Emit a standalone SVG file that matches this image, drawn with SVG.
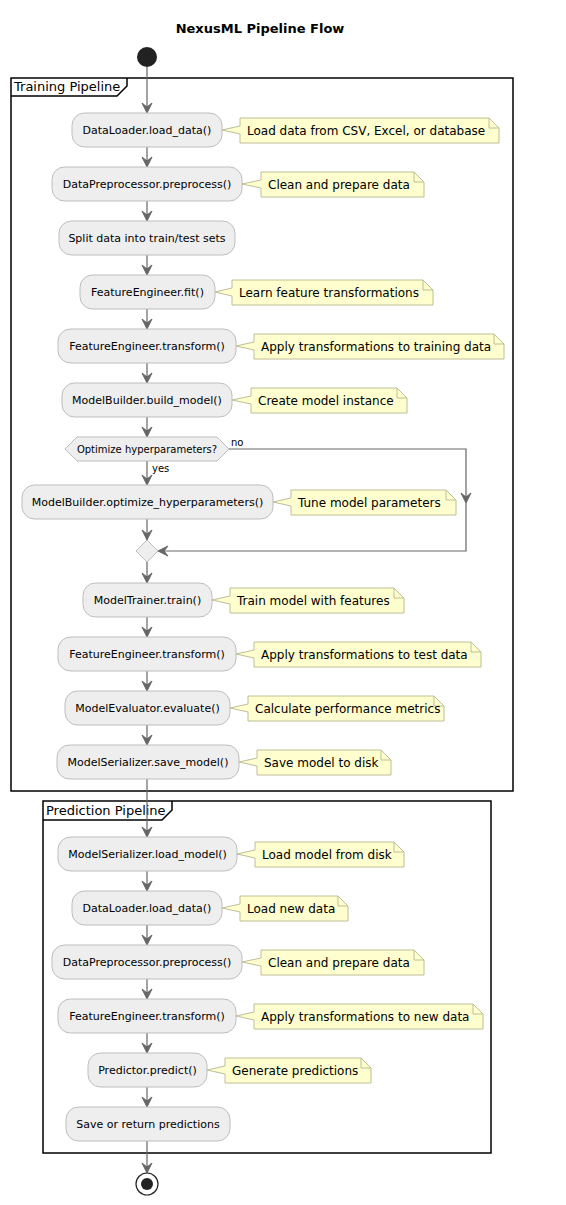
<svg xmlns="http://www.w3.org/2000/svg" width="566" height="1205" viewBox="0 0 566 1205">
<style>
.title{font-family:"DejaVu Sans",sans-serif;font-size:13px;font-weight:bold;fill:#000}
.frame{fill:none;stroke:#000;stroke-width:1.5}
.flabel{font-family:"DejaVu Sans",sans-serif;font-size:13px;fill:#000}
.act rect{fill:#EEEEEE;stroke:#BDBDBD;stroke-width:1}
.act text{font-family:"DejaVu Sans",sans-serif;font-size:11px;fill:#000;text-anchor:middle}
.note path{fill:#FEFECE;stroke:#BEBE98;stroke-width:1}
.note text{font-family:"DejaVu Sans",sans-serif;font-size:12px;fill:#000}
.edge{fill:none;stroke:#666;stroke-width:1.2}
.ah{fill:#666;stroke:#666;stroke-width:1}
.lbl{font-family:"DejaVu Sans",sans-serif;font-size:10px;fill:#000}
.dec{fill:#EEEEEE;stroke:#BDBDBD;stroke-width:1}
.dec-t{font-family:"DejaVu Sans",sans-serif;font-size:10px;fill:#000;text-anchor:middle}
</style>
<defs>
<polygon id="ad" points="-5,-10 0,0 5,-10 0,-6"/>
<polygon id="al" points="10,-5 0,0 10,5 6,0"/>
</defs>

<text class="title" x="260" y="33" text-anchor="middle">NexusML Pipeline Flow</text>

<g id="frame-training">
<rect class="frame" x="11" y="78" width="502" height="713"/>
<path class="frame" d="M11,96 L117,96 L127,86 L127,78"/>
<text class="flabel" x="14" y="91">Training Pipeline</text>
</g>
<g id="frame-prediction">
<rect class="frame" x="43" y="801" width="448" height="352"/>
<path class="frame" d="M43,820 L162,820 L172,810 L172,801"/>
<text class="flabel" x="46" y="815">Prediction Pipeline</text>
</g>

<g id="connectors">
<line class="edge" x1="147" y1="67" x2="147" y2="112"/>
<use href="#ad" class="ah" x="147" y="113"/>
<line class="edge" x1="147" y1="147" x2="147" y2="166"/>
<use href="#ad" class="ah" x="147" y="167"/>
<line class="edge" x1="147" y1="201" x2="147" y2="220"/>
<use href="#ad" class="ah" x="147" y="221"/>
<line class="edge" x1="147" y1="255" x2="147" y2="274"/>
<use href="#ad" class="ah" x="147" y="275"/>
<line class="edge" x1="147" y1="309" x2="147" y2="328"/>
<use href="#ad" class="ah" x="147" y="329"/>
<line class="edge" x1="147" y1="363" x2="147" y2="382"/>
<use href="#ad" class="ah" x="147" y="383"/>
<line class="edge" x1="147" y1="417" x2="147" y2="436"/>
<use href="#ad" class="ah" x="147" y="437"/>
<line class="edge" x1="147" y1="461" x2="147" y2="484"/>
<use href="#ad" class="ah" x="147" y="485"/>
<text class="lbl" x="152" y="472">yes</text>
<polyline class="edge" points="229,449 466,449 466,551 159,551"/>
<use href="#ad" class="ah" x="466" y="503"/>
<use href="#al" class="ah" x="158" y="551"/>
<text class="lbl" x="231" y="446">no</text>
<line class="edge" x1="147" y1="519" x2="147" y2="539"/>
<use href="#ad" class="ah" x="147" y="540"/>
<line class="edge" x1="147" y1="562" x2="147" y2="582"/>
<use href="#ad" class="ah" x="147" y="583"/>
<line class="edge" x1="147" y1="617" x2="147" y2="636"/>
<use href="#ad" class="ah" x="147" y="637"/>
<line class="edge" x1="147" y1="671" x2="147" y2="690"/>
<use href="#ad" class="ah" x="147" y="691"/>
<line class="edge" x1="147" y1="725" x2="147" y2="744"/>
<use href="#ad" class="ah" x="147" y="745"/>
<line class="edge" x1="147" y1="779" x2="147" y2="836"/>
<use href="#ad" class="ah" x="147" y="837"/>
<line class="edge" x1="147" y1="871" x2="147" y2="890"/>
<use href="#ad" class="ah" x="147" y="891"/>
<line class="edge" x1="147" y1="925" x2="147" y2="944"/>
<use href="#ad" class="ah" x="147" y="945"/>
<line class="edge" x1="147" y1="979" x2="147" y2="998"/>
<use href="#ad" class="ah" x="147" y="999"/>
<line class="edge" x1="147" y1="1033" x2="147" y2="1052"/>
<use href="#ad" class="ah" x="147" y="1053"/>
<line class="edge" x1="147" y1="1087" x2="147" y2="1106"/>
<use href="#ad" class="ah" x="147" y="1107"/>
<line class="edge" x1="147" y1="1141" x2="147" y2="1172"/>
<use href="#ad" class="ah" x="147" y="1173"/>
</g>

<g id="start"><circle cx="147" cy="57" r="10" fill="#222"/></g>

<g id="n1" class="act"><rect x="72" y="113" width="150" height="34" rx="12.5"/><text x="147" y="134">DataLoader.load_data()</text></g>
<g id="note1" class="note"><path d="M240,118 L240,126 L222,130 L240,134 L240,143 L499,143 L499,128 L489,118 Z M489,118 L489,128 L499,128"/><text x="247" y="135">Load data from CSV, Excel, or database</text></g>

<g id="n2" class="act"><rect x="52" y="167" width="190" height="34" rx="12.5"/><text x="147" y="188">DataPreprocessor.preprocess()</text></g>
<g id="note2" class="note"><path d="M261,172 L261,180 L242,184 L261,188 L261,197 L424,197 L424,182 L414,172 Z M414,172 L414,182 L424,182"/><text x="268" y="189">Clean and prepare data</text></g>

<g id="n3" class="act"><rect x="59" y="221" width="176" height="34" rx="12.5"/><text x="147" y="242">Split data into train/test sets</text></g>

<g id="n4" class="act"><rect x="80" y="275" width="135" height="34" rx="12.5"/><text x="147.5" y="296">FeatureEngineer.fit()</text></g>
<g id="note4" class="note"><path d="M232,280 L232,288 L215,292 L232,296 L232,305 L433,305 L433,290 L423,280 Z M423,280 L423,290 L433,290"/><text x="239" y="297">Learn feature transformations</text></g>

<g id="n5" class="act"><rect x="58" y="329" width="178" height="34" rx="12.5"/><text x="147" y="350">FeatureEngineer.transform()</text></g>
<g id="note5" class="note"><path d="M254,334 L254,342 L236,346 L254,350 L254,359 L504,359 L504,344 L494,334 Z M494,334 L494,344 L504,344"/><text x="261" y="351">Apply transformations to training data</text></g>

<g id="n6" class="act"><rect x="62" y="383" width="170" height="34" rx="12.5"/><text x="147" y="404">ModelBuilder.build_model()</text></g>
<g id="note6" class="note"><path d="M251,388 L251,396 L232,400 L251,404 L251,413 L407,413 L407,398 L397,388 Z M397,388 L397,398 L407,398"/><text x="258" y="405">Create model instance</text></g>

<g id="decision"><polygon class="dec" points="65,449 77,437 217,437 229,449 217,461 77,461"/><text class="dec-t" x="147" y="453">Optimize hyperparameters?</text></g>

<g id="n7" class="act"><rect x="22" y="485" width="251" height="34" rx="12.5"/><text x="147.5" y="506">ModelBuilder.optimize_hyperparameters()</text></g>
<g id="note7" class="note"><path d="M291,490 L291,498 L273,502 L291,506 L291,515 L456,515 L456,500 L446,490 Z M446,490 L446,500 L456,500"/><text x="298" y="507">Tune model parameters</text></g>

<g id="merge"><polygon class="dec" points="147,540 158,551 147,562 136,551"/></g>

<g id="n8" class="act"><rect x="83" y="583" width="129" height="34" rx="12.5"/><text x="147.5" y="604">ModelTrainer.train()</text></g>
<g id="note8" class="note"><path d="M230,588 L230,596 L212,600 L230,604 L230,613 L404,613 L404,598 L394,588 Z M394,588 L394,598 L404,598"/><text x="237" y="605">Train model with features</text></g>

<g id="n9" class="act"><rect x="58" y="637" width="178" height="34" rx="12.5"/><text x="147" y="658">FeatureEngineer.transform()</text></g>
<g id="note9" class="note"><path d="M254,642 L254,650 L236,654 L254,658 L254,667 L481,667 L481,652 L471,642 Z M471,642 L471,652 L481,652"/><text x="261" y="659">Apply transformations to test data</text></g>

<g id="n10" class="act"><rect x="65" y="691" width="165" height="34" rx="12.5"/><text x="147.5" y="712">ModelEvaluator.evaluate()</text></g>
<g id="note10" class="note"><path d="M248,696 L248,704 L230,708 L248,712 L248,721 L444,721 L444,706 L434,696 Z M434,696 L434,706 L444,706"/><text x="255" y="713">Calculate performance metrics</text></g>

<g id="n11" class="act"><rect x="57" y="745" width="182" height="34" rx="12.5"/><text x="148" y="766">ModelSerializer.save_model()</text></g>
<g id="note11" class="note"><path d="M257,750 L257,758 L239,762 L257,766 L257,775 L391,775 L391,760 L381,750 Z M381,750 L381,760 L391,760"/><text x="264" y="767">Save model to disk</text></g>

<g id="n12" class="act"><rect x="58" y="837" width="179" height="34" rx="12.5"/><text x="147.5" y="858">ModelSerializer.load_model()</text></g>
<g id="note12" class="note"><path d="M255,842 L255,850 L237,854 L255,858 L255,867 L404,867 L404,852 L394,842 Z M394,842 L394,852 L404,852"/><text x="262" y="859">Load model from disk</text></g>

<g id="n13" class="act"><rect x="72" y="891" width="150" height="34" rx="12.5"/><text x="147" y="912">DataLoader.load_data()</text></g>
<g id="note13" class="note"><path d="M240,896 L240,904 L222,908 L240,912 L240,921 L348,921 L348,906 L338,896 Z M338,896 L338,906 L348,906"/><text x="247" y="913">Load new data</text></g>

<g id="n14" class="act"><rect x="52" y="945" width="190" height="34" rx="12.5"/><text x="147" y="966">DataPreprocessor.preprocess()</text></g>
<g id="note14" class="note"><path d="M261,950 L261,958 L242,962 L261,966 L261,975 L424,975 L424,960 L414,950 Z M414,950 L414,960 L424,960"/><text x="268" y="967">Clean and prepare data</text></g>

<g id="n15" class="act"><rect x="58" y="999" width="178" height="34" rx="12.5"/><text x="147" y="1020">FeatureEngineer.transform()</text></g>
<g id="note15" class="note"><path d="M254,1004 L254,1012 L236,1016 L254,1020 L254,1029 L483,1029 L483,1014 L473,1004 Z M473,1004 L473,1014 L483,1014"/><text x="261" y="1021">Apply transformations to new data</text></g>

<g id="n16" class="act"><rect x="88" y="1053" width="119" height="34" rx="12.5"/><text x="147.5" y="1074">Predictor.predict()</text></g>
<g id="note16" class="note"><path d="M225,1058 L225,1066 L207,1070 L225,1074 L225,1083 L371,1083 L371,1068 L361,1058 Z M361,1058 L361,1068 L371,1068"/><text x="232" y="1075">Generate predictions</text></g>

<g id="n17" class="act"><rect x="66" y="1107" width="164" height="34" rx="12.5"/><text x="148" y="1128">Save or return predictions</text></g>

<g id="end"><circle cx="147" cy="1184" r="11" fill="#fff" stroke="#222" stroke-width="1.2"/><circle cx="147" cy="1184" r="6" fill="#222"/></g>
</svg>
